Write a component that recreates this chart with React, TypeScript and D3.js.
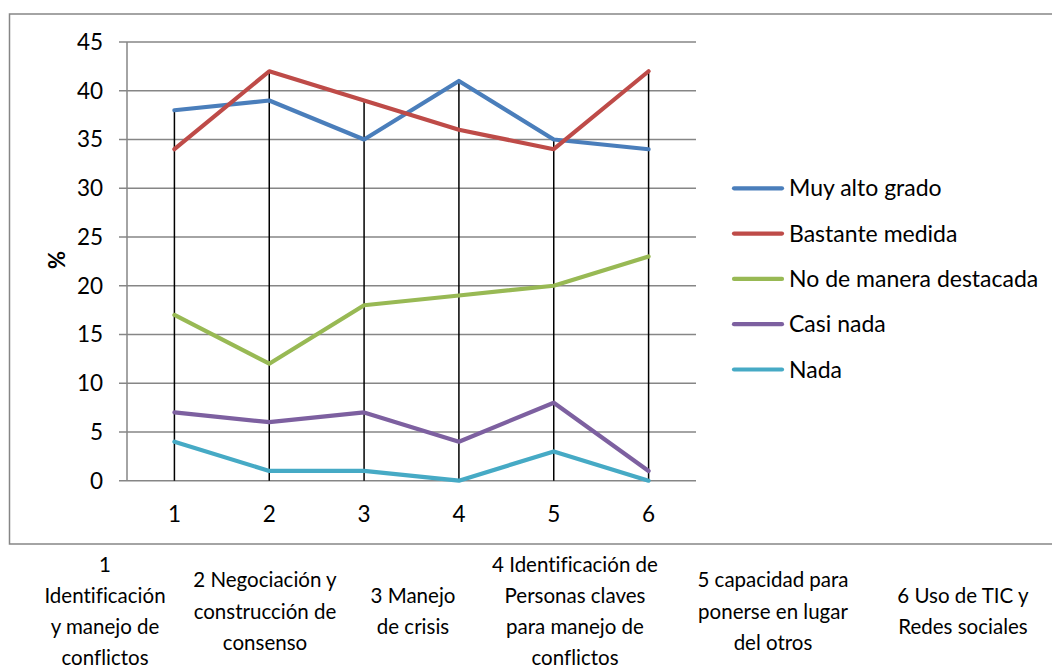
import React from "react";
import * as d3 from "d3";

const categories = ["1", "2", "3", "4", "5", "6"];
const seriesNames = ["Muy alto grado", "Bastante medida", "No de manera destacada", "Casi nada", "Nada"];
const muyAlto = [38, 39, 35, 41, 35, 34];
const bastante = [34, 42, 39, 36, 34, 42];
const noDestacada = [17, 12, 18, 19, 20, 23];
const casiNada = [7, 6, 7, 4, 8, 1];
const nada = [4, 1, 1, 0, 3, 0];
const yTicks = [0, 5, 10, 15, 20, 25, 30, 35, 40, 45];
const tableLabels = [
  ["1", "Identificación", "y manejo de", "conflictos"],
  ["2 Negociación y", "construcción de", "consenso"],
  ["3 Manejo", "de crisis"],
  ["4 Identificación de", "Personas claves", "para manejo de", "conflictos"],
  ["5 capacidad para", "ponerse en lugar", "del otros"],
  ["6 Uso de TIC y", "Redes sociales"],
];

const colors = ["#4A7EBB", "#BE4B48", "#98B954", "#7D60A0", "#46AAC5"];
const FONT = "Lato, 'Open Sans', sans-serif";

export default function App() {
  const series = [muyAlto, bastante, noDestacada, casiNada, nada];
  const x = d3.scaleBand<string>().domain(categories).range([127, 696]);
  const y = d3.scaleLinear().domain([0, 45]).range([480.7, 42]);
  const cx = (c: string) => (x(c) as number) + x.bandwidth() / 2;
  const line = d3
    .line<number>()
    .x((_, i) => cx(categories[i]))
    .y((d) => y(d));
  const tableCenters = [105, 265, 413, 575, 773, 963];
  const lineH = 31.2;
  const midY = 611.5;

  return (
    <svg
      width={1052}
      height={666}
      style={{ position: "absolute", left: 0, top: 0, background: "#fff", fontVariantLigatures: "none" }}
      fontFamily={FONT}
    >
      <rect x={9.5} y={14} width={1060} height={530} fill="#fff" stroke="#868686" strokeWidth={1.5} />
      {yTicks.map((t) => (
        <g key={t}>
          <line x1={119} x2={696} y1={y(t)} y2={y(t)} stroke="#868686" strokeWidth={1.5} />
          <text x={103} y={y(t)} dy="0.35em" textAnchor="end" fontSize={22.5} fill="#000">
            {t}
          </text>
        </g>
      ))}
      <line x1={127} x2={127} y1={42} y2={481} stroke="#868686" strokeWidth={1.5} />
      {categories.map((c, i) => {
        const mx = d3.max(series, (s) => s[i]) as number;
        return (
          <g key={c}>
            <line x1={cx(c)} x2={cx(c)} y1={y(mx)} y2={y(0)} stroke="#000" strokeWidth={1.5} />
            <text x={cx(c)} y={514} dy="0.35em" textAnchor="middle" fontSize={22.5} fill="#000">
              {c}
            </text>
          </g>
        );
      })}
      {series.map((s, k) => (
        <path key={k} d={line(s) || ""} fill="none" stroke={colors[k]} strokeWidth={4.2} strokeLinejoin="round" strokeLinecap="round" />
      ))}
      <text transform="translate(57,260) rotate(-90)" textAnchor="middle" dy="0.35em" fontSize={22} fontWeight="bold" fill="#000">
        %
      </text>
      {seriesNames.map((n, k) => {
        const ly = 188.3 + k * 45.3;
        return (
          <g key={n}>
            <line x1={734} x2={782} y1={ly} y2={ly} stroke={colors[k]} strokeWidth={4.2} strokeLinecap="round" />
            <text x={789} y={ly} dy="0.35em" fontSize={23} fill="#000">
              {n}
            </text>
          </g>
        );
      })}
      {tableLabels.map((lines, i) => (
        <g key={i}>
          {lines.map((t, j) => (
            <text
              key={j}
              x={tableCenters[i]}
              y={midY + (j - (lines.length - 1) / 2) * lineH}
              dy="0.35em"
              textAnchor="middle"
              fontSize={20.5}
              fill="#000"
            >
              {t}
            </text>
          ))}
        </g>
      ))}
    </svg>
  );
}
